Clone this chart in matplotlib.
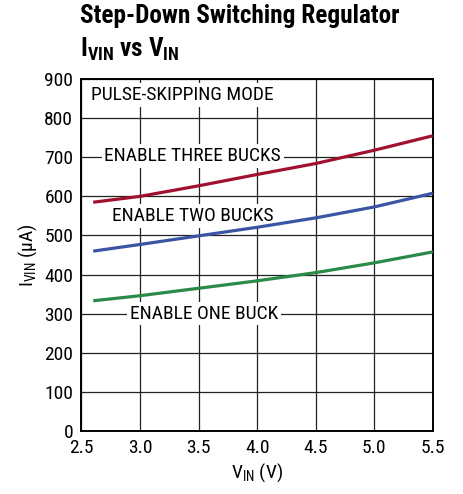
import matplotlib
matplotlib.use("Agg")
import matplotlib.pyplot as plt
from matplotlib import font_manager

# ── data ──────────────────────────────────────────────────────────────────────
vin = [2.6, 3.0, 3.5, 4.0, 4.5, 5.0, 5.5]
i_three = [585, 600, 627, 656, 684, 718, 755]
i_two = [460, 477, 499, 521, 545, 573, 608]
i_one = [333, 346, 365, 384, 405, 430, 458]

x_ticks = [2.5, 3.0, 3.5, 4.0, 4.5, 5.0, 5.5]
y_ticks = list(range(0, 1000, 100))

RED = "#A0112F"
BLUE = "#3A55A4"
GREEN = "#2A8A48"

# ── fonts: pick a condensed family that is installed ──────────────────────────
names = {f.name for f in font_manager.fontManager.ttflist}
def pick(prefs):
    for p in prefs:
        if p in names:
            return p
    return "DejaVu Sans"

FONT = pick(["Roboto Condensed", "Archivo Narrow", "Asap Condensed", "Barlow Semi Condensed"])
TFONT = pick(["Roboto Condensed", "Barlow Semi Condensed", "Asap Condensed", "Archivo Narrow"])
plt.rcParams["font.family"] = [FONT, "DejaVu Sans"]
plt.rcParams["mathtext.fontset"] = "custom"
plt.rcParams["mathtext.rm"] = FONT
plt.rcParams["mathtext.bf"] = TFONT + ":heavy"

FS = 14

fig = plt.figure(figsize=(4.63, 4.94), dpi=100)
ax = fig.add_axes([0.176, 0.1275, 0.759, 0.7125])

ax.plot(vin, i_three, color=RED, lw=2.3, solid_capstyle="butt", zorder=5)
ax.plot(vin, i_two, color=BLUE, lw=2.3, solid_capstyle="butt", zorder=5)
ax.plot(vin, i_one, color=GREEN, lw=2.3, solid_capstyle="butt", zorder=5)

ax.set_xlim(2.5, 5.5)
ax.set_ylim(0, 900)
ax.set_xticks(x_ticks)
ax.set_xticklabels([f"{v:.1f}" for v in x_ticks])
ax.set_yticks(y_ticks)
ax.grid(True, color="#222222", lw=0.9)
ax.set_axisbelow(True)
for s in ax.spines.values():
    s.set_linewidth(1.4)
ax.tick_params(length=0, labelsize=FS, pad=6)

ax.set_xlabel(r"$\mathregular{V_{IN}}$ (V)", fontsize=FS, labelpad=3)
ax.set_ylabel(r"$\mathregular{I_{VIN}}$ (µA)", fontsize=FS, labelpad=4)

box = dict(facecolor="white", edgecolor="none", pad=2)
ax.text(2.58, 859, "PULSE-SKIPPING MODE", fontsize=FS, va="center", ha="left",
        bbox=box, zorder=4)
ax.text(3.45, 703, "ENABLE THREE BUCKS", fontsize=FS, va="center", ha="center",
        bbox=box, zorder=4)
ax.text(3.45, 550, "ENABLE TWO BUCKS", fontsize=FS, va="center", ha="center",
        bbox=box, zorder=4)
ax.text(3.545, 300, "ENABLE ONE BUCK", fontsize=FS, va="center", ha="center",
        bbox=box, zorder=4)

fig.text(0.173, 0.954, "Step-Down Switching Regulator", fontsize=18.2,
         family=[TFONT, "DejaVu Sans"], fontweight="heavy", ha="left", va="baseline")
fig.text(0.173, 0.885, r"$\mathbf{I_{VIN}}$ vs $\mathbf{V_{IN}}$", fontsize=18.2,
         family=[TFONT, "DejaVu Sans"], fontweight="heavy", ha="left", va="baseline")

fig.savefig("out.png", dpi=100)
